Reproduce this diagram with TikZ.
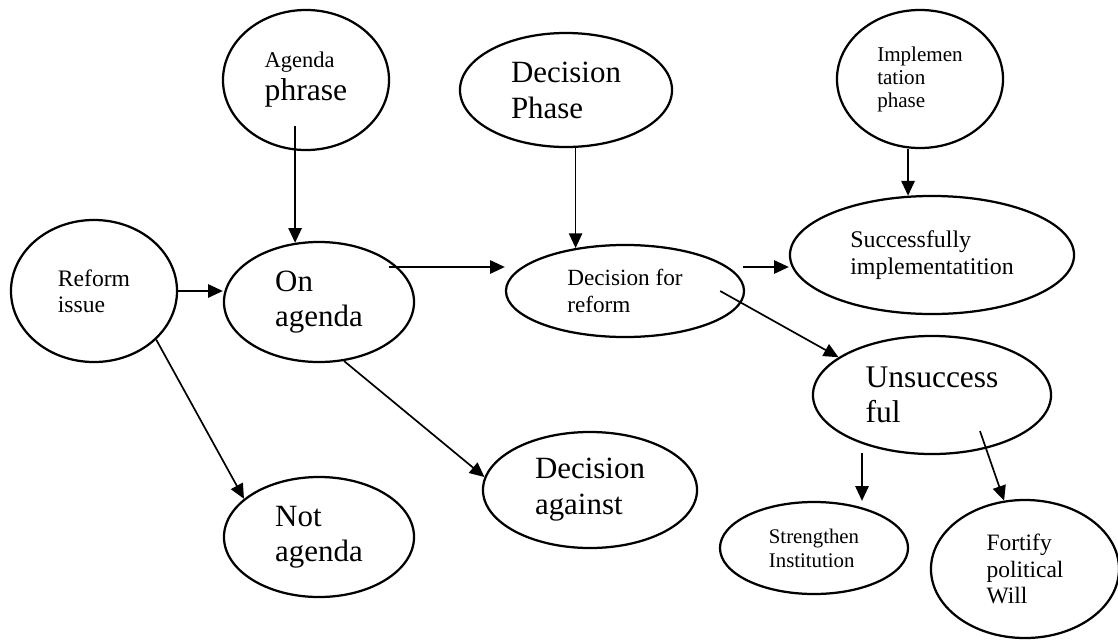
\documentclass[tikz,border=0pt]{standalone}
\usepackage{fontspec}
\setmainfont{Liberation Serif}
\usetikzlibrary{calc,shapes.geometric,arrows.meta}
\def\fsz#1#2{\fontsize{#1}{#2}\selectfont}

\begin{document}
\begin{tikzpicture}[x=0.025cm, y=-0.025cm,
		bubble/.style={draw, ellipse, line width=1.6pt, inner sep=0pt, align=left},
		arr/.style={line width=1.2pt, -{Triangle[length=10.5pt, width=9.5pt]}}]
			%%%%% START %%%%%
			\useasboundingbox (0, 0) rectangle (1118, 639);
			
			%% phases
			\node[bubble, minimum width=4.15cm, minimum height=3.5cm, font=\fsz{16}{23.5}] (agphrase) at (306, 80) {Agenda\\{\fsz{22.5}{23.5}phrase}};
			\node[bubble, minimum width=5.3cm, minimum height=2.85cm, font=\fsz{22}{25.6}] (dphase) at (566, 90) {Decision\\Phase};
			\node[bubble, minimum width=4.15cm, minimum height=3.45cm, font=\fsz{15}{16.4}] (implph) at (920, 79) {Implemen\\tation\\phase};
			
			%% main line
			\node[bubble, minimum width=4.15cm, minimum height=3.55cm, font=\fsz{16.8}{18.5}] (reform) at (94, 291) {Reform\\issue};
			\node[bubble, minimum width=4.75cm, minimum height=3cm, font=\fsz{22}{25}] (onag) at (319, 302) {On\\agenda};
			\node[bubble, minimum width=5.95cm, minimum height=2.3cm, font=\fsz{16.5}{19}] (dfor) at (625, 291) {Decision for\\reform};
			\node[bubble, minimum width=7.1cm, minimum height=2.95cm, font=\fsz{17}{19}] (succ) at (932, 255) {Successfully\\implementatition};
			\node[bubble, minimum width=5.95cm, minimum height=2.95cm, font=\fsz{22.4}{25}] (unsucc) at (932, 395) {Unsuccess\\ful};
			
			%% outcomes
			\node[bubble, minimum width=4.75cm, minimum height=3cm, font=\fsz{22}{24.5}] (notag) at (319, 537) {Not\\agenda};
			\node[bubble, minimum width=5.35cm, minimum height=2.9cm, font=\fsz{22}{25.6}] (dagainst) at (590, 490) {Decision\\against};
			\node[bubble, minimum width=4.7cm, minimum height=2.3cm, font=\fsz{14.8}{17}] (streng) at (814, 548) {Strengthen\\Institution};
			\node[bubble, minimum width=4.7cm, minimum height=3.45cm, font=\fsz{16.7}{19}] (fortify) at (1025, 569) {Fortify\\political\\Will};
			
			%% arrows
			\draw[arr] ($(onag.112 |- agphrase.south)+(0, -25)$) -- (onag.112);
			\draw[arr] (dfor.139 |- dphase.south) -- (dfor.139);
			\draw[arr] (succ.112 |- implph.south) -- (succ.112);
			\draw[arr] (reform.east) -- (reform.east -| onag.west);
			\draw[arr] ($(onag.east)+(-26, -35)$) coordinate (oa) -- (oa -| dfor.west);
			\draw[arr] ($(dfor.east)+(-2, -24)$) coordinate (df) -- (df -| succ.west);
			\draw[arr] ($(dfor.east)+(-25, 0)$) -- (unsucc.158);
			\draw[arr] (reform.-38) -- (notag.153);
			\draw[arr] (onag.-67) -- (dagainst.173);
			\draw[arr] ($(unsucc.south)+(-70, -2)$) coordinate (us) -- (us |- streng.north);
			\draw[arr] ($(unsucc.south)+(48, -24)$) -- (fortify.107);
			
			%%%%% END %%%%%
\end{tikzpicture}
\end{document}
